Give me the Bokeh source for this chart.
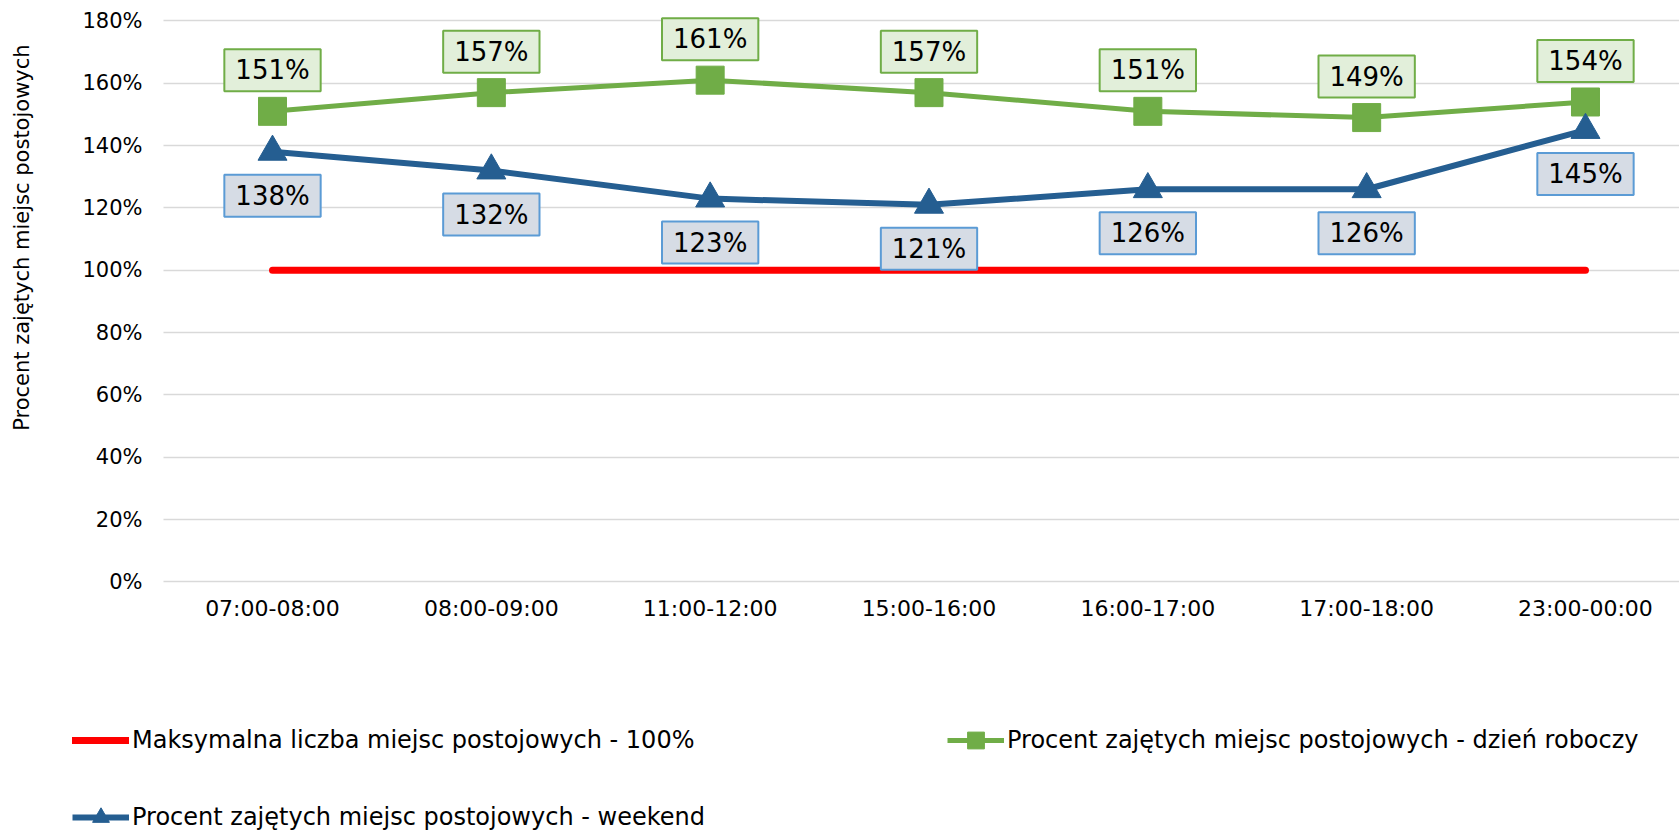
from bokeh.plotting import figure
from bokeh.models import (Range1d, FixedTicker, NumeralTickFormatter, Label,
                          Legend, LegendItem)
from bokeh.embed import file_html
from bokeh.resources import INLINE

categories = ["07:00-08:00", "08:00-09:00", "11:00-12:00", "15:00-16:00",
              "16:00-17:00", "17:00-18:00", "23:00-00:00"]
max_capacity = [1.00, 1.00, 1.00, 1.00, 1.00, 1.00, 1.00]
weekday = [1.51, 1.57, 1.61, 1.57, 1.51, 1.49, 1.54]
weekend = [1.38, 1.32, 1.23, 1.21, 1.26, 1.26, 1.45]
y_ticks = [0.0, 0.2, 0.4, 0.6, 0.8, 1.0, 1.2, 1.4, 1.6, 1.8]
series_names = ["Maksymalna liczba miejsc postojowych - 100%",
                "Procent zajętych miejsc postojowych - dzień roboczy",
                "Procent zajętych miejsc postojowych - weekend"]
y_title = "Procent zajętych miejsc postojowych"

RED = "#FF0000"
GREEN = "#70AD47"
GREEN_BG = "#E2EFDA"
BLUE = "#255E91"
BLUE_BG = "#D6DCE5"
BLUE_BORDER = "#5B9BD5"
GRID = "#D9D9D9"
FONT = "DejaVu Sans"

x = list(range(len(categories)))

# the frame covers the whole canvas; axes are pinned inside it
X_LEFT = -0.498          # left end of the category area
X_RANGE = (-1.243, 6.4296)
Y_RANGE = (-0.8069, 1.8656)

p = figure(width=1679, height=833, output_backend="svg", toolbar_location=None,
           x_range=Range1d(*X_RANGE), y_range=Range1d(*Y_RANGE),
           min_border_left=0, min_border_right=0, min_border_top=0,
           min_border_bottom=0)
p.outline_line_color = None
p.background_fill_color = "white"

p.xgrid.visible = False

yax = p.yaxis[0]
xax = p.xaxis[0]
yax.fixed_location = X_LEFT
xax.fixed_location = 0
yax.bounds = (0, 1.8)

yax.ticker = FixedTicker(ticks=y_ticks)
yax.formatter = NumeralTickFormatter(format="0%")
xax.ticker = FixedTicker(ticks=x)
xax.major_label_overrides = {i: c for i, c in zip(x, categories)}

for ax in (xax, yax):
    ax.axis_line_color = None
    ax.major_tick_line_color = None
    ax.minor_tick_line_color = None
    ax.major_tick_out = 0
    ax.major_tick_in = 0
    ax.major_label_text_font = FONT
    ax.major_label_text_color = "#000000"
yax.major_label_text_font_size = "21px"
xax.major_label_text_font_size = "22px"

grid = p.ygrid[0]
if "cross_bounds" in grid.properties():
    grid.cross_bounds = (X_LEFT, X_RANGE[1])
    grid.grid_line_color = GRID
    grid.grid_line_width = 1.5
else:
    grid.visible = False
    yax.level = "underlay"
    yax.major_tick_line_color = GRID
    yax.major_tick_line_width = 1.5
    yax.major_tick_in = 1520

yax.major_label_standoff = 21
xax.major_label_standoff = 14

# leading no-break spaces shift the centred title towards the top, as in the reference
yax.axis_label = "\u00a0" * 19 + y_title
yax.axis_label_text_font = FONT
yax.axis_label_text_font_size = "21px"
yax.axis_label_text_font_style = "normal"
yax.axis_label_text_color = "#000000"
yax.axis_label_standoff = 45

r_red = p.line(x, max_capacity, line_color=RED, line_width=7, line_cap="round")
r_g_line = p.line(x, weekday, line_color=GREEN, line_width=5)
r_g_pts = p.scatter(x, weekday, marker="square", size=28, color=GREEN)
r_b_line = p.line(x, weekend, line_color=BLUE, line_width=6)
r_b_pts = p.scatter(x, weekend, marker="triangle", size=29, color=BLUE)


def add_label(xv, yv, off, bg, border):
    kw = dict(x=xv, y=yv, text=f"{round(yv * 100)}%", text_align="center",
              text_baseline="middle", y_offset=off, text_font=FONT,
              text_font_size="26px", text_color="#000000",
              background_fill_color=bg, border_line_color=border,
              border_line_width=2)
    lab = Label(**kw)
    if "padding" in lab.properties():
        lab.padding = dict(x=11, y=6)
    p.add_layout(lab)


for xi, v in zip(x, weekday):
    add_label(xi, v, 41, GREEN_BG, GREEN)
for xi, v in zip(x, weekend):
    add_label(xi, v, -44, BLUE_BG, BLUE_BORDER)

legend = Legend(items=[LegendItem(label=series_names[0], renderers=[r_red]),
                       LegendItem(label=series_names[1], renderers=[r_g_line, r_g_pts]),
                       LegendItem(label=series_names[2], renderers=[r_b_line, r_b_pts])],
                ncols=2, orientation="horizontal", location=(72, -5),
                glyph_width=57, glyph_height=42, label_width=780, label_height=20,
                spacing=35, padding=0, margin=0, border_line_color=None,
                background_fill_alpha=0, label_text_font=FONT,
                label_text_font_size="24px", label_standoff=3,
                label_text_color="#000000")
p.add_layout(legend)

open("out.html", "w").write(file_html(p, INLINE))
